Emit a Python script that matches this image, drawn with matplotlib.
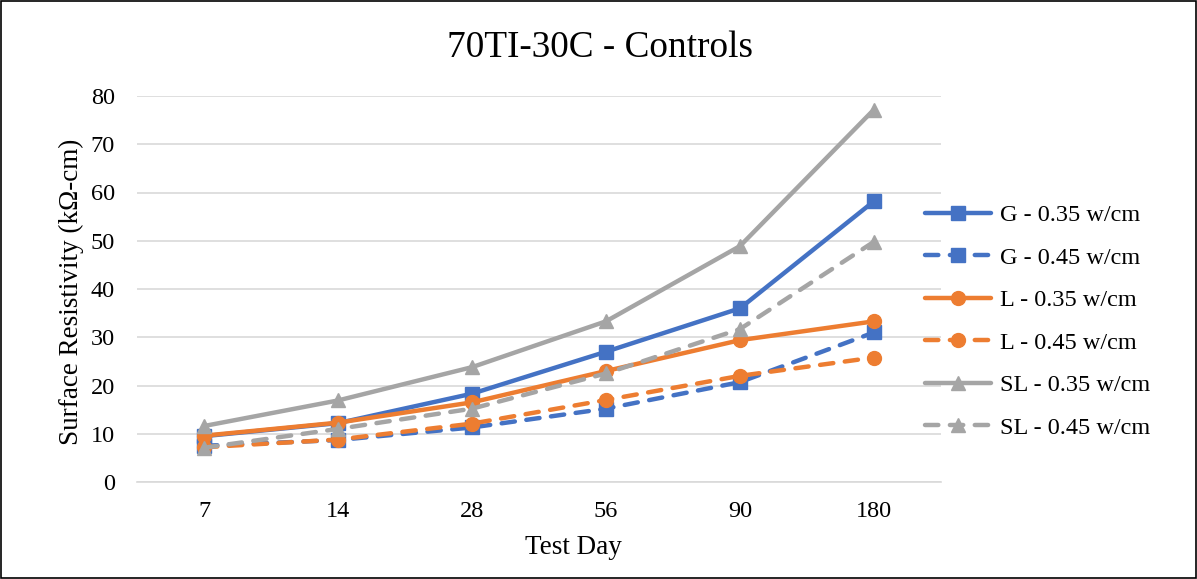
import numpy as np
import matplotlib.pyplot as plt
from matplotlib.patches import Rectangle

plt.rcParams['font.family'] = ['Liberation Serif', 'DejaVu Serif']

# Data
test_days = ["7", "14", "28", "56", "90", "180"]
g_035 = [9.5, 12.2, 18.3, 27.0, 36.0, 58.2]
g_045 = [7.5, 8.7, 11.3, 15.2, 20.7, 31.0]
l_035 = [9.6, 12.3, 16.5, 23.0, 29.4, 33.3]
l_045 = [7.2, 8.8, 12.1, 17.0, 22.0, 25.8]
sl_035 = [11.6, 16.9, 23.8, 33.3, 48.9, 77.2]
sl_045 = [7.1, 11.0, 15.2, 22.5, 31.7, 49.8]

blue = "#4472C4"
orange = "#ED7D31"
grey = "#A5A5A5"

fig = plt.figure(figsize=(11.97, 5.79), dpi=100)
ax = fig.add_axes([137 / 1197, 1 - 482 / 579, (941 - 137) / 1197, (482 - 96) / 579])

x = np.arange(len(test_days))
series = [
    (g_035, blue, "-", "s", "G - 0.35 w/cm"),
    (g_045, blue, "--", "s", "G - 0.45 w/cm"),
    (l_035, orange, "-", "o", "L - 0.35 w/cm"),
    (l_045, orange, "--", "o", "L - 0.45 w/cm"),
    (sl_035, grey, "-", "^", "SL - 0.35 w/cm"),
    (sl_045, grey, "--", "^", "SL - 0.45 w/cm"),
]
for vals, col, ls, mk, lab in series:
    ax.plot(x, vals, color=col, linestyle=ls, marker=mk, markersize=10,
            linewidth=3.2, label=lab, dashes=(3.0, 2.6) if ls == "--" else (None, None),
            solid_capstyle="round", dash_capstyle="round")

ax.set_xlim(-0.5, 5.5)
ax.set_ylim(0, 80)
ax.set_yticks(range(0, 81, 10))
ax.set_xticks(x)
ax.set_xticklabels(test_days)
ax.tick_params(axis="both", length=0, labelsize=17.5)
ax.tick_params(axis="y", pad=16)
ax.tick_params(axis="x", pad=14)
ax.grid(axis="y", color="#D9D9D9", linewidth=1.2)
ax.set_axisbelow(True)
for s in ["top", "right", "left"]:
    ax.spines[s].set_visible(False)
ax.spines["bottom"].set_color("#D9D9D9")
ax.spines["bottom"].set_linewidth(1.2)

ax.set_xlabel("Test Day", fontsize=19.5)
ax.xaxis.set_label_coords((573 - 137) / 804, -(547 - 482) / 386)
ax.xaxis.label.set_va("center")
ax.set_ylabel("Surface Resistivity (k\u03a9-cm)", fontsize=19.5)
ax.yaxis.set_label_coords(-(137 - 71) / 804, (482 - 292) / 386)
ax.yaxis.label.set_va("center")
fig.text(600 / 1197, 1 - 48 / 579, "70TI-30C - Controls", ha="center", va="center", fontsize=26.8)

ax.legend(loc="center left", bbox_to_anchor=((925 - 137) / 804, (482 - 321.5) / 386),
          frameon=False, fontsize=17.5, handlelength=2.7, labelspacing=0.84,
          handletextpad=0.4, borderpad=0, borderaxespad=0)

fig.add_artist(Rectangle((0.001, 0.002), 0.998, 0.996, transform=fig.transFigure,
                         fill=False, edgecolor="black", linewidth=1.2))

plt.savefig("out.png", dpi=100)
